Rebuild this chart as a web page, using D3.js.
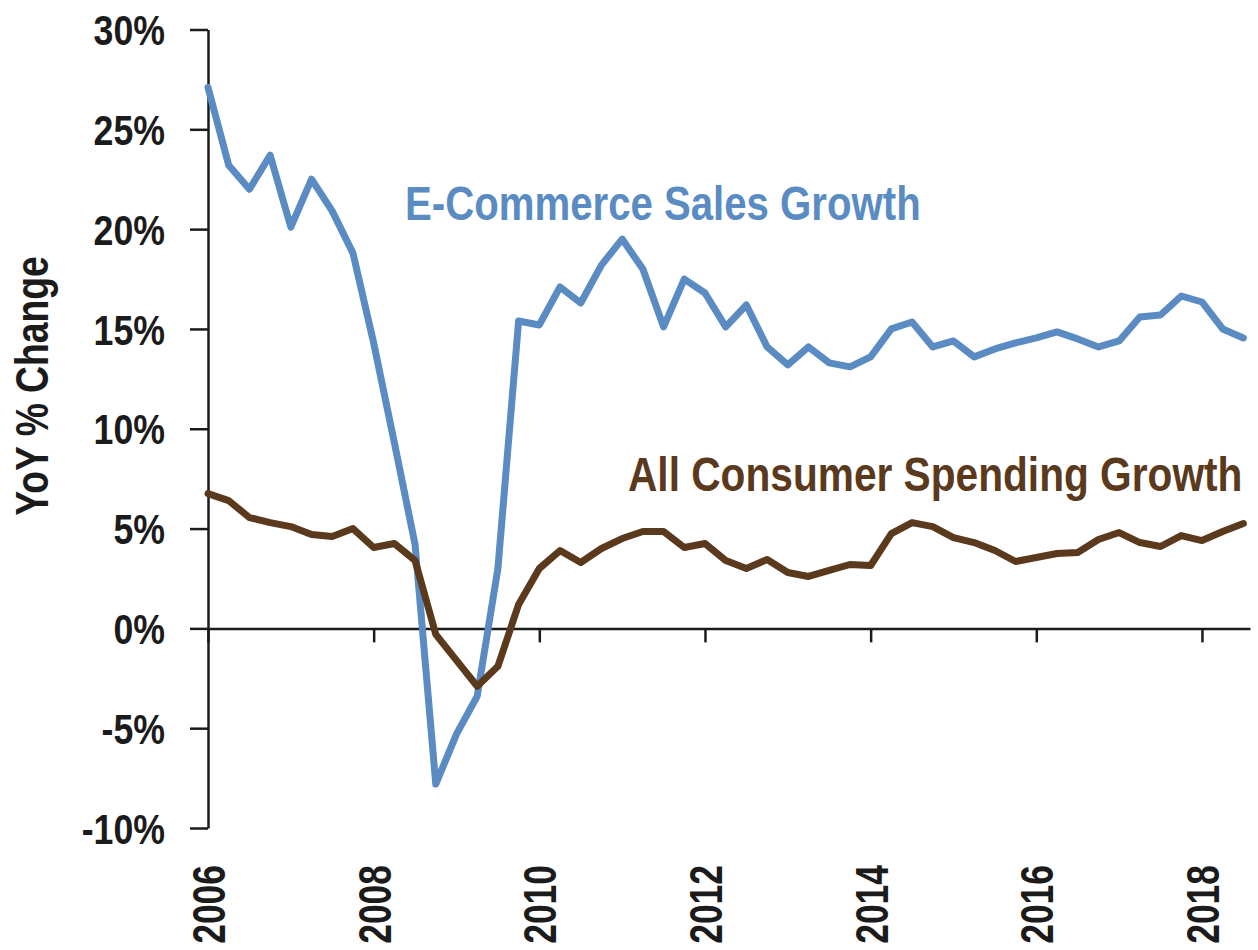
<!DOCTYPE html>
<html>
<head>
<meta charset="utf-8">
<script src="https://cdn.jsdelivr.net/npm/d3@7/dist/d3.min.js"></script>
<style>
  html, body { margin: 0; padding: 0; background: #ffffff; }
  svg { display: block; }
  text { font-family: "Liberation Sans", Arial, sans-serif; font-weight: bold; }
</style>
</head>
<body>
<svg id="chart" width="1258" height="950"></svg>
<script>
// ---- data (quarterly, YoY % change) ----
const quarters = [
  2006.00, 2006.25, 2006.50, 2006.75,
  2007.00, 2007.25, 2007.50, 2007.75,
  2008.00, 2008.25, 2008.50, 2008.75,
  2009.00, 2009.25, 2009.50, 2009.75,
  2010.00, 2010.25, 2010.50, 2010.75,
  2011.00, 2011.25, 2011.50, 2011.75,
  2012.00, 2012.25, 2012.50, 2012.75,
  2013.00, 2013.25, 2013.50, 2013.75,
  2014.00, 2014.25, 2014.50, 2014.75,
  2015.00, 2015.25, 2015.50, 2015.75,
  2016.00, 2016.25, 2016.50, 2016.75,
  2017.00, 2017.25, 2017.50, 2017.75,
  2018.00, 2018.25, 2018.50
];

const ecommerceGrowth = [
  27.1, 23.2, 22.0, 23.7,
  20.1, 22.5, 20.9, 18.8,
  14.3, 9.3, 4.2, -7.8,
  -5.3, -3.4, 3.0, 15.4,
  15.2, 17.1, 16.3, 18.2,
  19.5, 18.0, 15.1, 17.5,
  16.8, 15.1, 16.2, 14.1,
  13.2, 14.1, 13.3, 13.1,
  13.6, 15.0, 15.35, 14.1,
  14.4, 13.6, 14.0, 14.3,
  14.55, 14.85, 14.5, 14.1,
  14.4, 15.6, 15.7, 16.65,
  16.35, 15.0, 14.55
];

const consumerSpendingGrowth = [
  6.75, 6.4, 5.55, 5.3,
  5.1, 4.7, 4.6, 5.0,
  4.05, 4.25, 3.4, -0.3,
  -1.6, -2.9, -1.9, 1.2,
  3.0, 3.9, 3.3, 4.0,
  4.5, 4.85, 4.85, 4.05,
  4.25, 3.4, 3.0, 3.45,
  2.8, 2.6, 2.9, 3.2,
  3.15, 4.75, 5.3, 5.1,
  4.55, 4.3, 3.9, 3.35,
  3.55, 3.75, 3.8, 4.45,
  4.8, 4.3, 4.1, 4.65,
  4.4, 4.85, 5.25
];

const yTicks = [-10, -5, 0, 5, 10, 15, 20, 25, 30];
const xTicks = [2006, 2008, 2010, 2012, 2014, 2016, 2018];
const seriesNames = ["E-Commerce Sales Growth", "All Consumer Spending Growth"];
const yAxisTitle = "YoY % Change";

// ---- layout ----
const svg = d3.select("#chart");
const blue = "#5a8cc3";
const brown = "#5a391d";
const ink = "#1b1b1b";

const x = d3.scaleLinear().domain([2006, 2018.58]).range([208, 1250]);
const y = d3.scaleLinear().domain([-10, 30]).range([828, 29.5]);

function condense(sel, f) {
  sel.each(function () {
    const w = this.getComputedTextLength();
    this.setAttribute("textLength", w * f);
    this.setAttribute("lengthAdjust", "spacingAndGlyphs");
  });
}

// y axis
const yAxis = svg.append("g")
  .attr("transform", `translate(${x(2006)},0)`)
  .call(d3.axisLeft(y).tickValues(yTicks).tickFormat(d => d + "%")
    .tickSize(18).tickSizeOuter(0).tickPadding(25));
yAxis.select(".domain").attr("stroke", ink).attr("stroke-width", 2.5);
yAxis.selectAll(".tick line").attr("stroke", ink).attr("stroke-width", 2.5);
yAxis.selectAll(".tick text")
  .attr("fill", ink).attr("font-size", 42).attr("font-family", "Liberation Sans, Arial, sans-serif")
  .attr("font-weight", "bold").attr("dy", "0.36em")
  .call(condense, 0.85);

// x axis at zero
const xAxis = svg.append("g")
  .attr("transform", `translate(0,${y(0)})`)
  .call(d3.axisBottom(x).tickValues(xTicks).tickFormat(d3.format("d"))
    .tickSize(14).tickSizeOuter(0));
xAxis.select(".domain").attr("stroke", ink).attr("stroke-width", 2.5);
xAxis.selectAll(".tick line").attr("stroke", ink).attr("stroke-width", 2.5);
xAxis.selectAll(".tick text")
  .attr("fill", ink).attr("font-size", 46).attr("font-family", "Liberation Sans, Arial, sans-serif")
  .attr("font-weight", "bold")
  .attr("text-anchor", "end")
  .attr("x", 0).attr("y", 0).attr("dy", "0.36em")
  .attr("transform", `translate(0,${865 - y(0)}) rotate(-90)`)
  .call(condense, 0.77);

// y axis title
svg.append("text")
  .attr("transform", `translate(48,386) rotate(-90)`)
  .attr("text-anchor", "middle")
  .attr("font-size", 46)
  .attr("fill", ink)
  .text(yAxisTitle)
  .call(condense, 0.81);

// lines
const line = d3.line().x(d => x(d[0])).y(d => y(d[1]));

svg.append("path")
  .datum(quarters.map((q, i) => [q, ecommerceGrowth[i]]))
  .attr("d", line)
  .attr("fill", "none").attr("stroke", blue).attr("stroke-width", 7)
  .attr("stroke-linejoin", "round").attr("stroke-linecap", "round");

svg.append("path")
  .datum(quarters.map((q, i) => [q, consumerSpendingGrowth[i]]))
  .attr("d", line)
  .attr("fill", "none").attr("stroke", brown).attr("stroke-width", 7)
  .attr("stroke-linejoin", "round").attr("stroke-linecap", "round");

// series labels (horizontally condensed via scale transform)
svg.append("text")
  .attr("transform", "translate(405,220) scale(0.82,1)")
  .attr("font-size", 49).attr("fill", blue)
  .text(seriesNames[0]);

svg.append("text")
  .attr("transform", "translate(628,491) scale(0.83,1)")
  .attr("font-size", 49).attr("fill", brown)
  .text(seriesNames[1]);
</script>
</body>
</html>
